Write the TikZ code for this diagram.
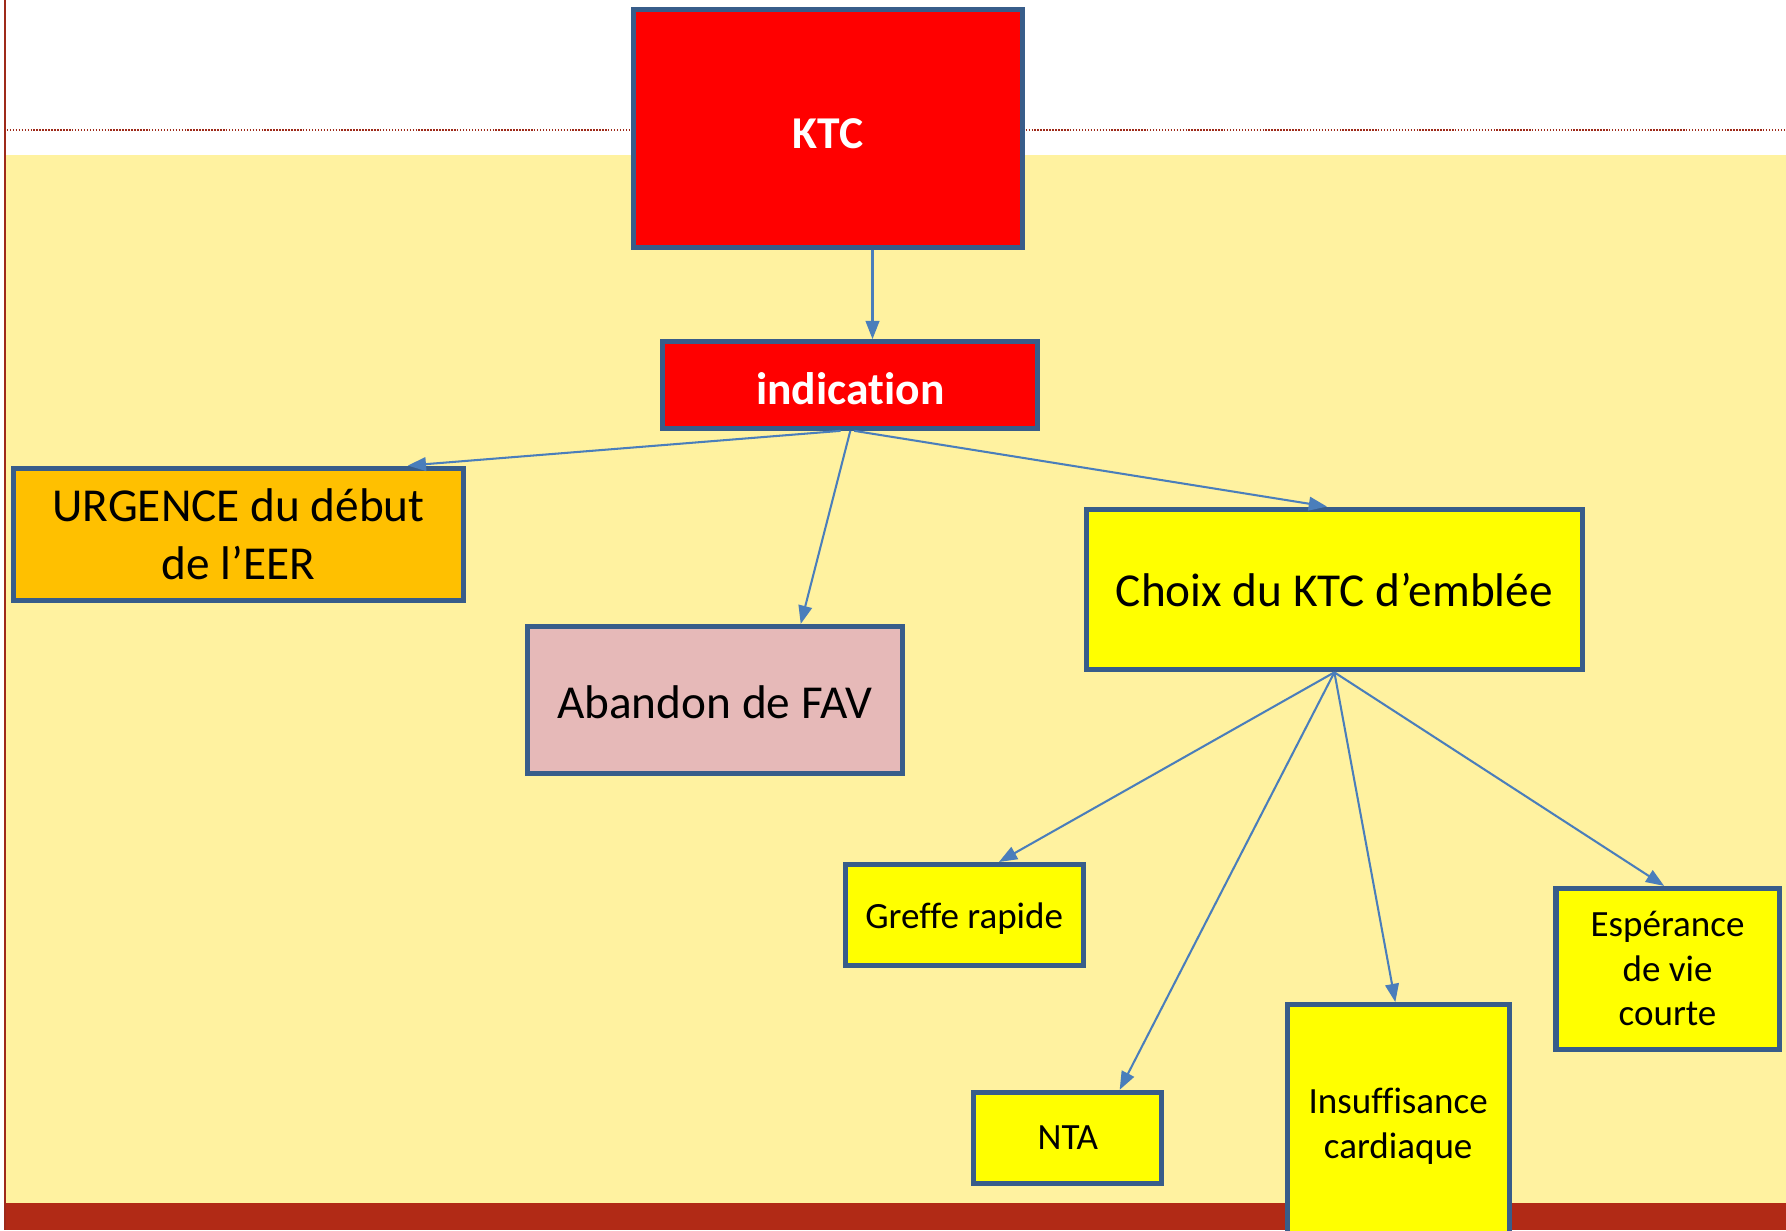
\documentclass[tikz,border=0pt]{standalone}
\usepackage{fontspec}
\setmainfont[Ligatures=NoCommon]{Carlito}
\usepackage{tikz}
\usetikzlibrary{arrows.meta}

\definecolor{slidebg}{HTML}{FFF2A0}
\definecolor{slidered}{HTML}{B12A16}
\definecolor{rule}{HTML}{9E2A1A}
\definecolor{boxline}{HTML}{385D8A}
\definecolor{arrowblue}{HTML}{4A7EBB}
\definecolor{orangebox}{HTML}{FFC000}
\definecolor{pinkbox}{HTML}{E6B9B8}
\definecolor{yellowbox}{HTML}{FFFF00}

\begin{document}
\begin{tikzpicture}[x=1pt,y=-1pt,->,>={Triangle[length=16pt,width=12pt]},
    arrowblue,line width=1.8pt,
    base node/.style={rectangle,draw=boxline,line width=4.5pt,inner sep=0pt,align=center,text=black},
    red node/.style={base node,fill=red,text=white,text depth=0pt,font=\bfseries\fontsize{40}{48}\selectfont},
    big node/.style={base node,text depth=0pt,font=\fontsize{41.5}{51}\selectfont},
    leaf node/.style={base node,fill=yellowbox,text depth=0pt,font=\fontsize{32.5}{39}\selectfont}]

  \useasboundingbox (0,0) rectangle (1568,1080);
  % slide background
  \fill[slidebg] (5,136) rectangle (1568,1056);
  \fill[slidered] (5,1056) rectangle (1568,1080);
  \draw[-,rule,line width=1.5pt] (4.5,0) -- (4.5,1080);
  \draw[-,rule,line width=1.3pt,dash pattern=on 1.3pt off 1.3pt] (6,114) -- (1568,114);

  \node[red node,text height=36pt,minimum width=342pt,minimum height=209pt] (KTC) at (727,112.5) {KTC};
  \node[red node,text height=34pt,minimum width=329pt,minimum height=76pt] (indication) at (746.5,338) {indication};
  \node[big node,fill=orangebox,minimum width=395pt,minimum height=116pt] (urgence) at (209.5,469) {URGENCE du début\\de l’EER};
  \node[big node,fill=pinkbox,text height=32pt,minimum width=329pt,minimum height=129pt] (abandon) at (627.5,614.5) {Abandon de FAV};
  \node[big node,fill=yellowbox,minimum width=435pt,minimum height=141pt] (choix) at (1171.5,517.5) {Choix du KTC d’emblée};
  \node[leaf node,minimum width=209pt,minimum height=89pt] (greffe) at (846.5,803.5) {Greffe rapide};
  \node[leaf node,minimum width=165pt,minimum height=80pt] (nta) at (937.5,999) {NTA};
  \node[leaf node,minimum width=195pt,minimum height=208pt] (cardiaque) at (1227.5,986) {Insuffisance\\cardiaque};
  \node[leaf node,minimum width=196pt,minimum height=141pt] (esperance) at (1464,850.5) {Espérance\\de vie\\courte};

  \path ([xshift=39pt]KTC.south) edge ([xshift=19.5pt]indication.north)
        ([xshift=-8.5pt]indication.south) edge ([xshift=148.5pt]urgence.north)
        (indication.south) edge ([xshift=75.5pt]abandon.north)
        ([xshift=3.5pt]indication.south) edge ([xshift=-6.5pt]choix.north)
        (choix.south) edge ([xshift=30.5pt]greffe.north)
                      edge ([xshift=45.5pt]nta.north)
                      edge ([xshift=-2.5pt]cardiaque.north)
                      edge ([xshift=-3pt]esperance.north);

\end{tikzpicture}
\end{document}
